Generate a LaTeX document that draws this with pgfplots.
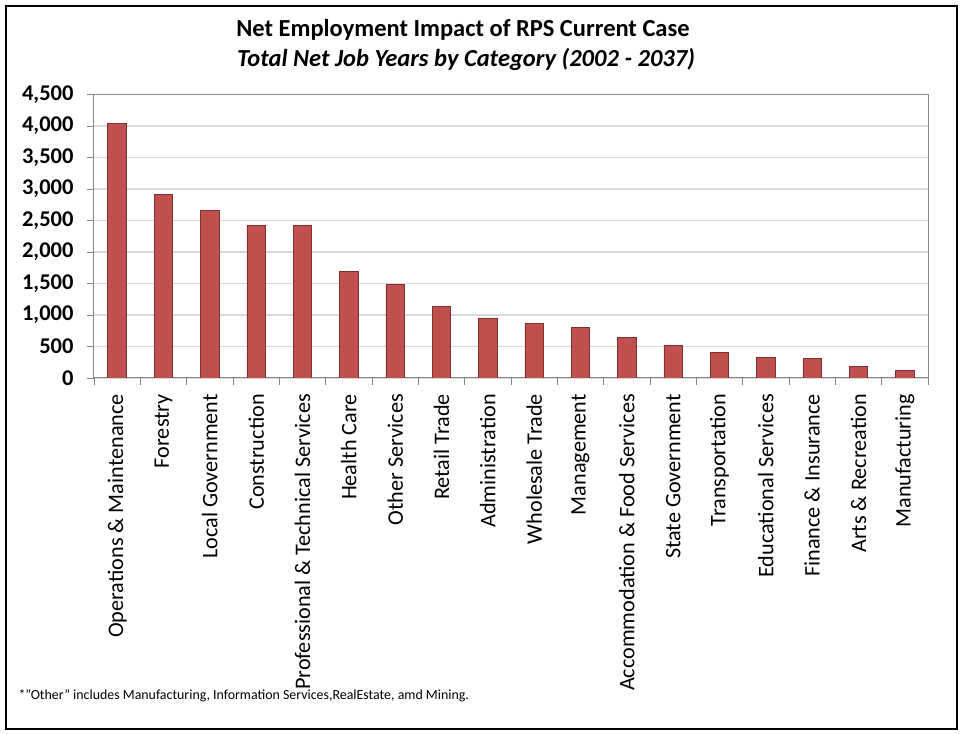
\documentclass[border=0pt]{standalone}
\usepackage{pgfplots}
\pgfplotsset{compat=1.18}
\usepackage{fontspec}
\setmainfont{Carlito}
\definecolor{barred}{HTML}{C0504D}
\definecolor{baredge}{HTML}{7F2F2D}
\definecolor{gridgray}{HTML}{D9D9D9}
\definecolor{axgray}{HTML}{868686}
\begin{document}
\begin{tikzpicture}[x=1pt,y=1pt]
\useasboundingbox (0,0) rectangle (962,734);
\draw[line width=2.5pt,black] (6,5) rectangle (957,728);
\node[font=\fontsize{24.5}{28}\selectfont\bfseries,anchor=base] at (463,734-37) {Net Employment Impact of RPS Current Case};
\node[font=\fontsize{24.5}{28}\selectfont\bfseries\itshape,anchor=base] at (466,734-67) {Total Net Job Years by Category (2002 - 2037)};
\node[font=\fontsize{13.9}{16}\selectfont,anchor=base west] at (15,734-700) {*"Other" includes Manufacturing, Information Services,RealEstate, amd Mining.};
\begin{axis}[
  at={(94pt,356pt)}, anchor=south west,
  scale only axis, width=834pt, height=283.5pt,
  xmin=-0.5, xmax=17.5, ymin=0, ymax=4500,
  ytick={0,500,...,4500},
  xtick={0,...,17},
  xticklabels={{Operations \& Maintenance},Forestry,{Local Government},Construction,{Professional \& Technical Services},{Health Care},{Other Services},{Retail Trade},Administration,{Wholesale Trade},Management,{Accommodation \& Food Services},{State Government},Transportation,{Educational Services},{Finance \& Insurance},{Arts \& Recreation},Manufacturing},
  minor xtick={-0.5,0.5,...,17.5},
  major x tick style={draw=none},
  minor x tick style={axgray, line width=0.8pt},
  major y tick style={axgray, line width=0.8pt},
  tick align=outside, tick pos=left,
  major tick length=7pt, minor tick length=7pt,
  ymajorgrids, major y grid style={gridgray, line width=1.3pt},
  axis line style={axgray, line width=1pt},
  /pgf/number format/.cd, 1000 sep={,}, assume math mode=true,
  /pgfplots/.cd,
  yticklabel style={font=\fontsize{22.5}{26}\selectfont\bfseries, xshift=-10pt},
  xticklabel shift=9pt,
  xticklabel style={font=\fontsize{22.2}{26}\selectfont, rotate=90, anchor=east, inner sep=0pt},
]
\addplot[ybar, bar width=0.4, fill=barred, draw=baredge, line width=0.8pt] coordinates {
(0,4040) (1,2920) (2,2660) (3,2415) (4,2415) (5,1685) (6,1485) (7,1135) (8,950)
(9,865) (10,800) (11,645) (12,520) (13,400) (14,330) (15,305) (16,185) (17,120)
};
\end{axis}
\end{tikzpicture}
\end{document}
